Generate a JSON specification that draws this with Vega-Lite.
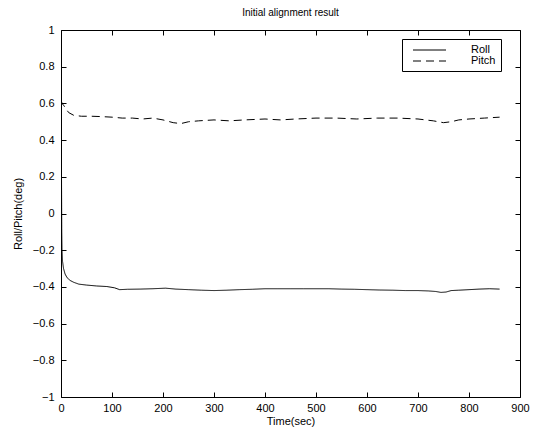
{
  "$schema": "https://vega.github.io/schema/vega-lite/v6.json",
  "width": 459,
  "height": 367,
  "autosize": {"type": "none"},
  "padding": {"left": 61, "top": 30, "right": 17, "bottom": 42},
  "background": "white",
  "title": {"text": "Initial alignment result", "fontSize": 10, "fontWeight": "normal", "font": "Liberation Sans", "color": "black", "offset": 7, "dy": 1},
  "config": {
    "view": {"stroke": "black", "strokeWidth": 1},
    "axis": {"labelFont": "Liberation Sans", "titleFont": "Liberation Sans", "labelFontSize": 11, "titleFontSize": 11, "titleFontWeight": "normal", "labelColor": "black", "titleColor": "black", "grid": false, "domain": false, "tickColor": "black", "tickSize": 5, "tickWidth": 1},
    "legend": {"labelFont": "Liberation Sans", "labelFontSize": 11, "labelColor": "black"}
  },
  "data": {"values": [
    {"t": 0, "v": 0.85, "s": "Roll"}, {"t": 0.5, "v": 0.6, "s": "Roll"}, {"t": 1, "v": 0.2, "s": "Roll"}, {"t": 1.5, "v": -0.1, "s": "Roll"}, {"t": 2, "v": -0.2, "s": "Roll"}, {"t": 3, "v": -0.26, "s": "Roll"}, {"t": 5, "v": -0.3, "s": "Roll"}, {"t": 8, "v": -0.33, "s": "Roll"}, {"t": 12, "v": -0.35, "s": "Roll"}, {"t": 18, "v": -0.365, "s": "Roll"}, {"t": 25, "v": -0.375, "s": "Roll"}, {"t": 35, "v": -0.385, "s": "Roll"}, {"t": 50, "v": -0.39, "s": "Roll"}, {"t": 70, "v": -0.395, "s": "Roll"}, {"t": 90, "v": -0.398, "s": "Roll"}, {"t": 105, "v": -0.405, "s": "Roll"}, {"t": 115, "v": -0.415, "s": "Roll"}, {"t": 130, "v": -0.413, "s": "Roll"}, {"t": 155, "v": -0.412, "s": "Roll"}, {"t": 180, "v": -0.41, "s": "Roll"}, {"t": 205, "v": -0.407, "s": "Roll"}, {"t": 225, "v": -0.412, "s": "Roll"}, {"t": 250, "v": -0.415, "s": "Roll"}, {"t": 275, "v": -0.418, "s": "Roll"}, {"t": 300, "v": -0.42, "s": "Roll"}, {"t": 325, "v": -0.418, "s": "Roll"}, {"t": 350, "v": -0.415, "s": "Roll"}, {"t": 375, "v": -0.413, "s": "Roll"}, {"t": 400, "v": -0.41, "s": "Roll"}, {"t": 425, "v": -0.41, "s": "Roll"}, {"t": 450, "v": -0.41, "s": "Roll"}, {"t": 475, "v": -0.41, "s": "Roll"}, {"t": 500, "v": -0.41, "s": "Roll"}, {"t": 525, "v": -0.41, "s": "Roll"}, {"t": 550, "v": -0.412, "s": "Roll"}, {"t": 575, "v": -0.413, "s": "Roll"}, {"t": 600, "v": -0.415, "s": "Roll"}, {"t": 625, "v": -0.417, "s": "Roll"}, {"t": 650, "v": -0.418, "s": "Roll"}, {"t": 675, "v": -0.42, "s": "Roll"}, {"t": 700, "v": -0.42, "s": "Roll"}, {"t": 720, "v": -0.422, "s": "Roll"}, {"t": 735, "v": -0.425, "s": "Roll"}, {"t": 745, "v": -0.43, "s": "Roll"}, {"t": 755, "v": -0.428, "s": "Roll"}, {"t": 765, "v": -0.42, "s": "Roll"}, {"t": 780, "v": -0.418, "s": "Roll"}, {"t": 800, "v": -0.415, "s": "Roll"}, {"t": 820, "v": -0.412, "s": "Roll"}, {"t": 840, "v": -0.41, "s": "Roll"}, {"t": 860, "v": -0.412, "s": "Roll"},
    {"t": 0, "v": 0.62, "s": "Pitch"}, {"t": 2, "v": 0.6, "s": "Pitch"}, {"t": 5, "v": 0.59, "s": "Pitch"}, {"t": 10, "v": 0.57, "s": "Pitch"}, {"t": 15, "v": 0.55, "s": "Pitch"}, {"t": 25, "v": 0.535, "s": "Pitch"}, {"t": 40, "v": 0.53, "s": "Pitch"}, {"t": 60, "v": 0.53, "s": "Pitch"}, {"t": 80, "v": 0.528, "s": "Pitch"}, {"t": 100, "v": 0.525, "s": "Pitch"}, {"t": 120, "v": 0.52, "s": "Pitch"}, {"t": 140, "v": 0.52, "s": "Pitch"}, {"t": 160, "v": 0.515, "s": "Pitch"}, {"t": 180, "v": 0.52, "s": "Pitch"}, {"t": 200, "v": 0.51, "s": "Pitch"}, {"t": 220, "v": 0.495, "s": "Pitch"}, {"t": 235, "v": 0.49, "s": "Pitch"}, {"t": 250, "v": 0.5, "s": "Pitch"}, {"t": 270, "v": 0.505, "s": "Pitch"}, {"t": 300, "v": 0.51, "s": "Pitch"}, {"t": 330, "v": 0.505, "s": "Pitch"}, {"t": 360, "v": 0.51, "s": "Pitch"}, {"t": 400, "v": 0.515, "s": "Pitch"}, {"t": 430, "v": 0.51, "s": "Pitch"}, {"t": 460, "v": 0.515, "s": "Pitch"}, {"t": 500, "v": 0.52, "s": "Pitch"}, {"t": 540, "v": 0.52, "s": "Pitch"}, {"t": 580, "v": 0.515, "s": "Pitch"}, {"t": 620, "v": 0.52, "s": "Pitch"}, {"t": 660, "v": 0.52, "s": "Pitch"}, {"t": 700, "v": 0.515, "s": "Pitch"}, {"t": 730, "v": 0.505, "s": "Pitch"}, {"t": 750, "v": 0.495, "s": "Pitch"}, {"t": 765, "v": 0.5, "s": "Pitch"}, {"t": 780, "v": 0.51, "s": "Pitch"}, {"t": 800, "v": 0.515, "s": "Pitch"}, {"t": 830, "v": 0.52, "s": "Pitch"}, {"t": 860, "v": 0.525, "s": "Pitch"}
  ]},
  "layer": [
    {
      "mark": {"type": "line", "color": "black", "strokeWidth": 1, "clip": true},
      "encoding": {
        "x": {"field": "t", "type": "quantitative", "scale": {"domain": [0, 900], "nice": false}, "axis": {"orient": "bottom", "offset": -5, "title": "Time(sec)", "values": [0, 100, 200, 300, 400, 500, 600, 700, 800, 900], "labelPadding": 5, "titlePadding": 2, "labelFlush": false}},
        "y": {"field": "v", "type": "quantitative", "scale": {"domain": [-1, 1], "nice": false, "zero": false}, "axis": {"orient": "left", "offset": -5, "title": "Roll/Pitch(deg)", "format": "~g", "values": [-1, -0.8, -0.6, -0.4, -0.2, 0, 0.2, 0.4, 0.6, 0.8, 1], "labelPadding": 7, "titlePadding": 9, "labelFlush": false}},
        "detail": {"field": "s"},
        "strokeDash": {"field": "s", "type": "nominal", "scale": {"domain": ["Roll", "Pitch"], "range": [[1, 0], [8, 5]]}, "legend": {"title": null, "orient": "none", "legendX": 341, "legendY": 9, "symbolType": "M0,0H6", "symbolSize": 121, "symbolStrokeColor": "black", "symbolStrokeWidth": 1, "labelOffset": 52, "padding": 5, "strokeColor": "black", "fillColor": "white", "rowPadding": -3}}
      }
    },
    {
      "mark": {"type": "line", "opacity": 0},
      "encoding": {
        "x": {"field": "t", "type": "quantitative", "scale": {"domain": [0, 900], "nice": false}, "axis": {"orient": "top", "offset": -5, "title": null, "labels": false, "values": [0, 100, 200, 300, 400, 500, 600, 700, 800, 900]}},
        "y": {"field": "v", "type": "quantitative", "scale": {"domain": [-1, 1], "nice": false, "zero": false}, "axis": {"orient": "right", "offset": -5, "title": null, "labels": false, "values": [-1, -0.8, -0.6, -0.4, -0.2, 0, 0.2, 0.4, 0.6, 0.8, 1]}},
        "detail": {"field": "s"}
      }
    }
  ],
  "resolve": {"axis": {"x": "independent", "y": "independent"}}
}
